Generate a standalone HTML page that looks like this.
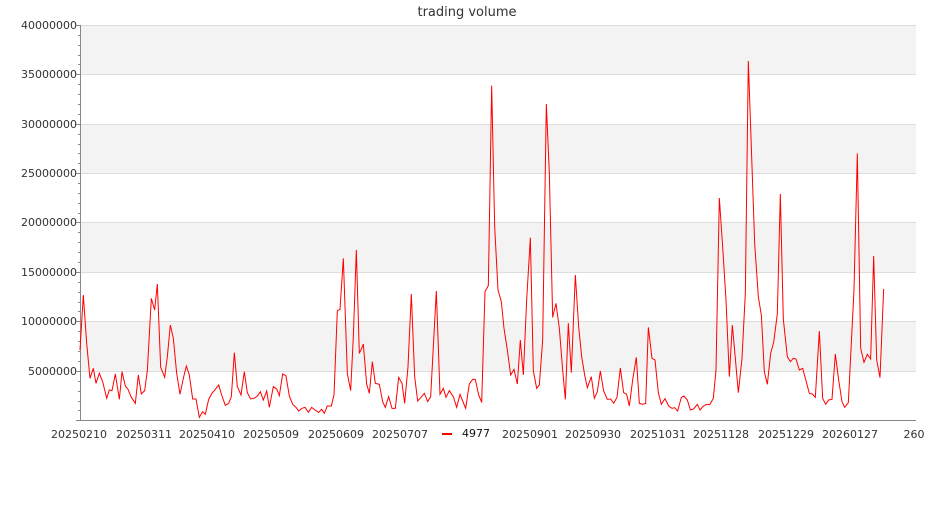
<!DOCTYPE html>
<html><head><meta charset="utf-8"><style>
body{margin:0;background:#fff;width:935px;height:500px;overflow:hidden;font-family:"Liberation Sans","DejaVu Sans",sans-serif}
svg text{font-family:"DejaVu Sans","Liberation Sans",sans-serif}
</style></head><body>
<svg width="935" height="500" xmlns="http://www.w3.org/2000/svg">
<text x="467" y="16" font-size="13" fill="#333" text-anchor="middle">trading volume</text>
<g fill="#f3f3f3">
<rect x="80" y="25" width="836" height="49"/>
<rect x="80" y="124" width="836" height="49"/>
<rect x="80" y="222" width="836" height="50"/>
<rect x="80" y="321" width="836" height="50"/>
</g>
<g stroke="#ddd" stroke-width="1">
<line x1="80" x2="916" y1="25.5" y2="25.5"/><line x1="80" x2="916" y1="74.5" y2="74.5"/>
<line x1="80" x2="916" y1="124.5" y2="124.5"/><line x1="80" x2="916" y1="173.5" y2="173.5"/>
<line x1="80" x2="916" y1="222.5" y2="222.5"/><line x1="80" x2="916" y1="272.5" y2="272.5"/>
<line x1="80" x2="916" y1="321.5" y2="321.5"/><line x1="80" x2="916" y1="371.5" y2="371.5"/>
</g>
<g stroke="#888" stroke-width="1">
<line x1="80.5" x2="80.5" y1="25" y2="420"/>
<line x1="80" x2="916" y1="420.5" y2="420.5"/>
</g>
<g stroke="#888" stroke-width="1" id="ticks"></g>
<g font-size="11" fill="#333" text-anchor="end">
<text x="77" y="29">40000000</text><text x="77" y="78">35000000</text>
<text x="77" y="128">30000000</text><text x="77" y="177">25000000</text>
<text x="77" y="226">20000000</text><text x="77" y="276">15000000</text>
<text x="77" y="325">10000000</text><text x="77" y="375">5000000</text>
</g>
<g font-size="11" fill="#333" text-anchor="middle">
<text x="79" y="438">20250210</text><text x="144" y="438">20250311</text>
<text x="207" y="438">20250410</text><text x="271" y="438">20250509</text>
<text x="336" y="438">20250609</text><text x="400" y="438">20250707</text>
<text x="530" y="438">20250901</text><text x="593" y="438">20250930</text>
<text x="658" y="438">20251031</text><text x="721" y="438">20251128</text>
<text x="786" y="438">20251229</text><text x="850" y="438">20260127</text>
<text x="914" y="438">260</text>
</g>
<rect x="442" y="433" width="10" height="2" fill="red"/>
<text x="462" y="437" font-size="11" fill="#111">4977</text>
<g transform="translate(40,0) scale(0.33333)" fill="none" stroke="red" stroke-width="1" vector-effect="non-scaling-stroke">
<polyline vector-effect="non-scaling-stroke" points="120,1050 130,885 140,1030 150,1135 160,1105 168,1150 178,1120 188,1145 200,1195 208,1170 216,1172 226,1122 238,1198 246,1115 256,1158 264,1168 274,1192 286,1210 295,1125 304,1182 314,1172 322,1112 334,895 344,930 352,852 362,1102 374,1132 382,1070 391,975 400,1015 410,1120 420,1183 430,1135 439,1098 448,1125 458,1197 468,1197 478,1252 488,1235 496,1243 506,1198 516,1180 526,1168 536,1155 546,1188 556,1216 566,1210 574,1190 583,1058 592,1160 603,1185 613,1115 622,1178 632,1197 642,1195 652,1188 661,1175 670,1200 680,1173 688,1222 700,1160 710,1167 718,1187 728,1122 738,1128 748,1188 758,1213 768,1222 776,1233 786,1225 795,1222 805,1237 815,1222 825,1230 836,1237 845,1228 853,1240 862,1218 874,1218 882,1185 892,932 900,928 910,775 922,1120 932,1172 940,1010 949,750 958,1060 965,1045 970,1032 980,1152 988,1180 997,1085 1006,1150 1018,1153 1028,1205 1036,1222 1046,1190 1056,1225 1066,1225 1076,1132 1086,1150 1094,1210 1104,1100 1114,882 1124,1130 1133,1203 1143,1192 1153,1180 1163,1205 1172,1190 1189,873 1200,1183 1210,1165 1218,1192 1228,1172 1240,1190 1250,1222 1260,1183 1270,1208 1277,1225 1288,1152 1298,1138 1306,1138 1316,1185 1325,1207"/>
</g>
<g transform="translate(480,0) scale(0.33333)" fill="none" stroke="red" stroke-width="1">
<polyline vector-effect="non-scaling-stroke" points="5,1208 15,875 25,857 35,257 44,680 54,870 64,905 72,985 82,1050 92,1125 102,1108 112,1152 121,1020 130,1125 140,900 151,713 160,1112 170,1165 178,1155 188,1020 199,312 208,520 218,952 228,910 238,985 248,1110 256,1198 265,970 274,1118 286,825 296,980 305,1070 314,1125 322,1163 334,1130 343,1195 352,1175 361,1113 371,1173 382,1198 392,1197 401,1210 411,1192 421,1104 431,1178 440,1183 448,1218 458,1140 469,1072 478,1210 488,1213 497,1210 505,982 516,1075 525,1080 535,1178 544,1213 555,1196 566,1218 576,1225 584,1223 593,1233 604,1192 612,1188 622,1200 631,1230 641,1227 652,1213 660,1230 670,1218 680,1213 690,1213 700,1195 708,1110 718,594 728,740 738,900 748,1130 757,975 766,1075 775,1178 786,1075 796,880 805,183 815,470 824,730 835,890 844,945 853,1115 862,1153 872,1060 881,1027 892,942 901,582 910,958 922,1070 931,1085 940,1075 948,1077 958,1110 968,1105 978,1142 988,1180 997,1182 1006,1192 1018,993 1028,1195 1037,1213 1046,1200 1056,1198 1066,1062 1076,1140 1086,1205 1094,1222 1105,1208 1122,870 1132,460 1142,1045 1152,1087 1162,1063 1172,1077 1181,768 1190,1080 1200,1133 1211,867"/>
</g>
<g stroke="#888" stroke-width="1">
<path d="M76 25.5h4M76 74.5h4M76 124.5h4M76 173.5h4M76 222.5h4M76 272.5h4M76 321.5h4M76 371.5h4M76 420.5h4
M78 35.5h2M78 45.5h2M78 55.5h2M78 64.5h2M78 84.5h2M78 94.5h2M78 104.5h2M78 114.5h2M78 134.5h2M78 144.5h2M78 153.5h2M78 163.5h2M78 183.5h2M78 193.5h2M78 203.5h2M78 213.5h2M78 232.5h2M78 242.5h2M78 252.5h2M78 262.5h2M78 282.5h2M78 292.5h2M78 302.5h2M78 311.5h2M78 331.5h2M78 341.5h2M78 351.5h2M78 361.5h2M78 381.5h2M78 391.5h2M78 401.5h2M78 410.5h2"/>
</g>
</svg>
</body></html>
